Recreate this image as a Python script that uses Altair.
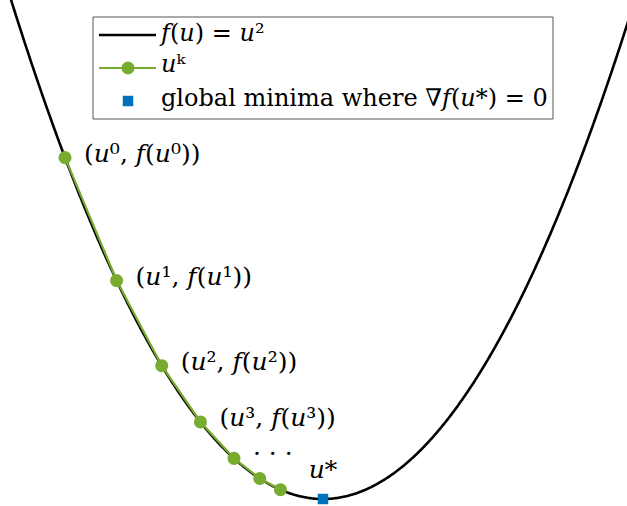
import altair as alt
import pandas as pd

# Gradient-descent iterates on f(u) = u^2
U_ITER = [-2.0, -1.6, -1.25, -0.95, -0.69, -0.49, -0.33]
ITER_LABELS = ["(𝑢⁰, 𝑓(𝑢⁰))", "(𝑢¹, 𝑓(𝑢¹))", "(𝑢², 𝑓(𝑢²))", "(𝑢³, 𝑓(𝑢³))", "· · ·", "", ""]
U_STAR = [0.0]
STAR_LABEL = ["𝑢*"]

LEGEND_TEXT = ["𝑓(𝑢) = 𝑢²", "𝑢ᵏ", "global minima where ∇𝑓(𝑢*) = 0"]

U_RANGE = [-2.504, 2.357]
F_RANGE = [-0.082, 5.847]

BLACK = "#000000"
GREEN = "#77AC30"
BLUE = "#0072BD"
FONT = "DejaVu Serif"
FS_LABEL = 25
FS_LEGEND = 24

W, H = 627, 506

xs = alt.Scale(domain=U_RANGE, nice=False, zero=False)
ys = alt.Scale(domain=F_RANGE, nice=False, zero=False)
X = alt.X("u:Q", scale=xs, axis=None)
Y = alt.Y("f:Q", scale=ys, axis=None)

iters = pd.DataFrame({"u": U_ITER, "label": ITER_LABELS})
star = pd.DataFrame({"u": U_STAR, "label": STAR_LABEL})

curve = (
    alt.Chart(alt.sequence(-2.6, 2.61, 0.01, as_="u"))
    .transform_calculate(f="datum.u * datum.u")
    .mark_line(color=BLACK, strokeWidth=2.6, clip=True)
    .encode(x=X, y=Y)
)

path = (
    alt.Chart(iters)
    .transform_calculate(f="datum.u * datum.u")
    .mark_line(color=GREEN, strokeWidth=2.2, clip=True)
    .encode(x=X, y=Y)
)

dots = (
    alt.Chart(iters)
    .transform_calculate(f="datum.u * datum.u")
    .mark_circle(color=GREEN, size=170, opacity=1)
    .encode(x=X, y=Y)
)

iter_text = (
    alt.Chart(iters)
    .transform_calculate(f="datum.u * datum.u")
    .mark_text(align="left", baseline="middle", dx=19, dy=-4, font=FONT, fontSize=FS_LABEL, color=BLACK)
    .encode(x=X, y=Y, text="label:N")
)

minimum = (
    alt.Chart(star)
    .transform_calculate(f="datum.u * datum.u")
    .mark_square(color=BLUE, size=110, opacity=1)
    .encode(x=X, y=Y)
)

star_text = (
    alt.Chart(star)
    .transform_calculate(f="datum.u * datum.u")
    .mark_text(align="center", baseline="middle", dy=-29, font=FONT, fontSize=FS_LABEL, color=BLACK)
    .encode(x=X, y=Y, text="label:N")
)

# Legend box drawn in pixel space
one = pd.DataFrame({"k": [0]})
box = alt.Chart(one).mark_rect(fill="white", stroke="#555555", strokeWidth=1).encode(
    x=alt.value(93), x2=alt.value(553), y=alt.value(17), y2=alt.value(119)
)
leg_line1 = alt.Chart(one).mark_rule(color=BLACK, strokeWidth=2.6).encode(
    x=alt.value(99), x2=alt.value(156), y=alt.value(35)
)
leg_line2 = alt.Chart(one).mark_rule(color=GREEN, strokeWidth=2.2).encode(
    x=alt.value(99), x2=alt.value(156), y=alt.value(68)
)
leg_dot = alt.Chart(one).mark_circle(color=GREEN, size=170, opacity=1).encode(
    x=alt.value(128), y=alt.value(68)
)
leg_sq = alt.Chart(one).mark_square(color=BLUE, size=110, opacity=1).encode(
    x=alt.value(128), y=alt.value(101)
)
leg_rows = []
for txt, yy in zip(LEGEND_TEXT, [34, 65, 99]):
    leg_rows.append(
        alt.Chart(one)
        .mark_text(align="left", baseline="middle", font=FONT, fontSize=FS_LEGEND, color=BLACK, text=txt)
        .encode(x=alt.value(161), y=alt.value(yy))
    )

chart = (
    alt.layer(curve, path, dots, iter_text, minimum, star_text,
              box, leg_line1, leg_line2, leg_dot, leg_sq, *leg_rows)
    .properties(width=W, height=H, autosize=alt.AutoSizeParams(type="none"), padding=0,
                background="white")
    .configure_view(stroke=None)
)

chart.save("out.html", embed_options={"renderer": "svg", "actions": False})
